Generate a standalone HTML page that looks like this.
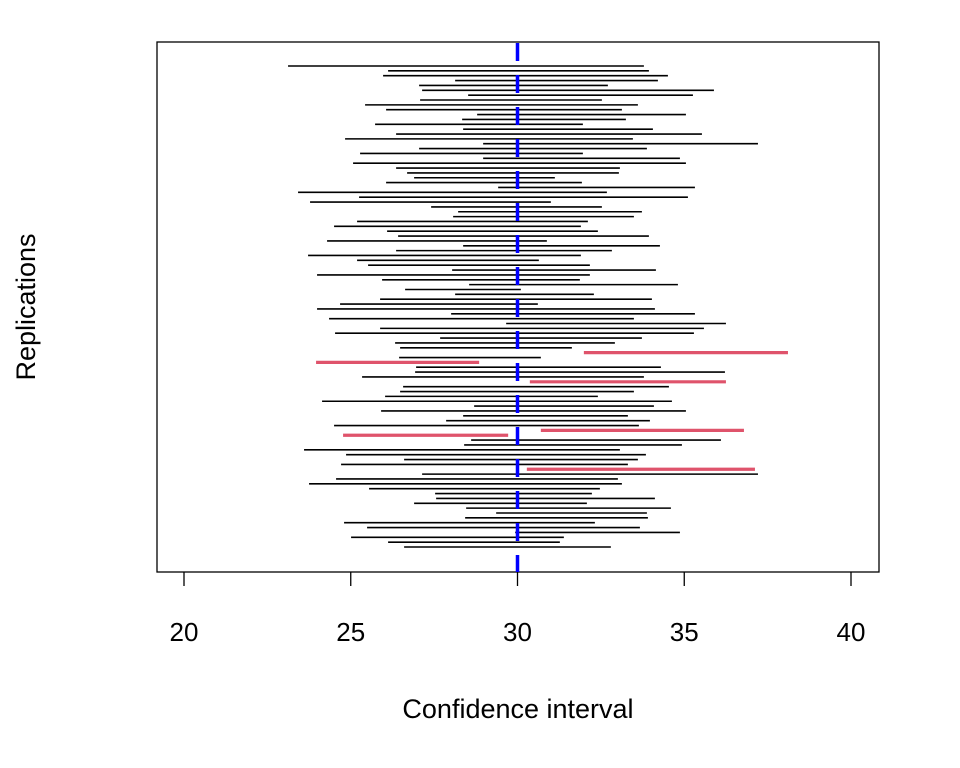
<!DOCTYPE html>
<html><head><meta charset="utf-8"><style>
html,body{margin:0;padding:0;background:#fff}
svg{display:block}
text{font-family:"Liberation Sans",Arial,sans-serif;fill:#000}
</style></head><body>
<svg id="chart" width="960" height="768" viewBox="0 0 960 768" xmlns="http://www.w3.org/2000/svg">
<rect x="157" y="42" width="722" height="530" fill="none" stroke="#000" stroke-width="1.3"/>
<g id="intervals"></g>
<g id="xaxis"></g>
<text x="518" y="718" font-size="27" text-anchor="middle">Confidence interval</text>
<text transform="translate(35,307) rotate(-90)" font-size="27" text-anchor="middle">Replications</text>
</svg>
<script>
// intervals listed top (replication 100) to bottom (replication 1)
const lower = [23.12,26.12,25.97,28.13,27.05,27.14,28.52,27.08,25.43,26.06,28.79,28.34,25.73,28.37,26.36,24.83,28.97,27.05,25.28,28.97,25.07,26.36,26.69,26.90,26.06,29.42,23.42,25.25,23.78,27.41,28.22,28.07,25.19,24.50,26.09,26.42,24.29,28.37,26.36,23.72,25.19,25.52,28.04,23.99,25.94,28.55,26.63,28.13,25.88,24.68,23.99,28.01,24.35,29.66,25.88,24.53,27.68,26.33,26.48,31.99,26.45,23.96,26.96,26.93,25.34,30.37,26.57,26.48,26.03,24.14,28.70,25.91,28.37,27.86,24.50,30.70,24.77,28.61,28.40,23.60,24.86,26.60,24.71,30.28,27.14,24.56,23.75,25.55,27.53,27.56,26.90,28.46,29.36,28.43,24.80,25.49,29.93,25.01,26.12,26.60];
const upper = [33.79,33.94,34.51,34.21,32.71,35.89,35.26,32.53,33.61,33.13,35.05,33.25,31.96,34.06,35.53,33.46,37.21,33.88,31.96,34.87,35.05,33.07,33.04,31.12,31.93,35.32,32.68,35.11,31.00,32.53,33.73,33.49,32.11,31.90,32.41,33.94,30.88,34.27,32.83,31.90,30.64,32.17,34.15,32.17,31.87,34.81,30.10,32.29,34.03,30.61,34.12,35.32,33.49,36.25,35.59,35.29,33.73,32.92,31.63,38.11,30.70,28.85,34.30,36.22,33.79,36.25,34.54,33.49,32.41,34.63,34.09,35.05,33.31,33.97,33.64,36.79,29.72,36.10,34.93,33.07,33.85,33.61,33.31,37.12,37.21,33.01,33.13,32.47,32.23,34.12,32.08,34.60,33.88,33.91,32.32,33.67,34.87,31.39,31.27,32.80];
const trueMean = 30;
const xTicks = [20,25,30,35,40];

const NS = "http://www.w3.org/2000/svg";
const xs = v => 184 + (v - 20) * (851 - 184) / 20;
const n = lower.length;
const ys = i => 66 + i * (547 - 66) / (n - 1);

const g = document.getElementById('intervals');
for (let i = 0; i < n; i++) {
  const miss = lower[i] > trueMean || upper[i] < trueMean;
  const l = document.createElementNS(NS, 'line');
  
  
  l.setAttribute('x1', xs(lower[i])); l.setAttribute('x2', xs(upper[i]));
  l.setAttribute('y1', ys(i)); l.setAttribute('y2', ys(i));
  l.setAttribute('stroke', miss ? '#DF536B' : '#000');
  l.setAttribute('stroke-width', miss ? 3.2 : 1.6);
  g.appendChild(l);
}
const ref = document.createElementNS(NS, 'line');


ref.setAttribute('x1', xs(trueMean)); ref.setAttribute('x2', xs(trueMean));
ref.setAttribute('y1', 43); ref.setAttribute('y2', 572);
ref.setAttribute('stroke', '#0000FF'); ref.setAttribute('stroke-width', 3.5);
ref.setAttribute('stroke-dasharray', '18 14');
document.getElementById('chart').appendChild(ref);

const ax = document.getElementById('xaxis');
xTicks.forEach(t => {
  const tk = document.createElementNS(NS, 'line');
  
  
  tk.setAttribute('x1', xs(t)); tk.setAttribute('x2', xs(t));
  tk.setAttribute('y1', 572); tk.setAttribute('y2', 586);
  tk.setAttribute('stroke', '#000'); tk.setAttribute('stroke-width', 1.3);
  ax.appendChild(tk);
  const tx = document.createElementNS(NS, 'text');
  
  
  tx.setAttribute('x', xs(t)); tx.setAttribute('y', 641);
  tx.setAttribute('font-size', '26'); tx.setAttribute('text-anchor', 'middle');
  tx.textContent = t;
  ax.appendChild(tx);
});
</script>
</body></html>
